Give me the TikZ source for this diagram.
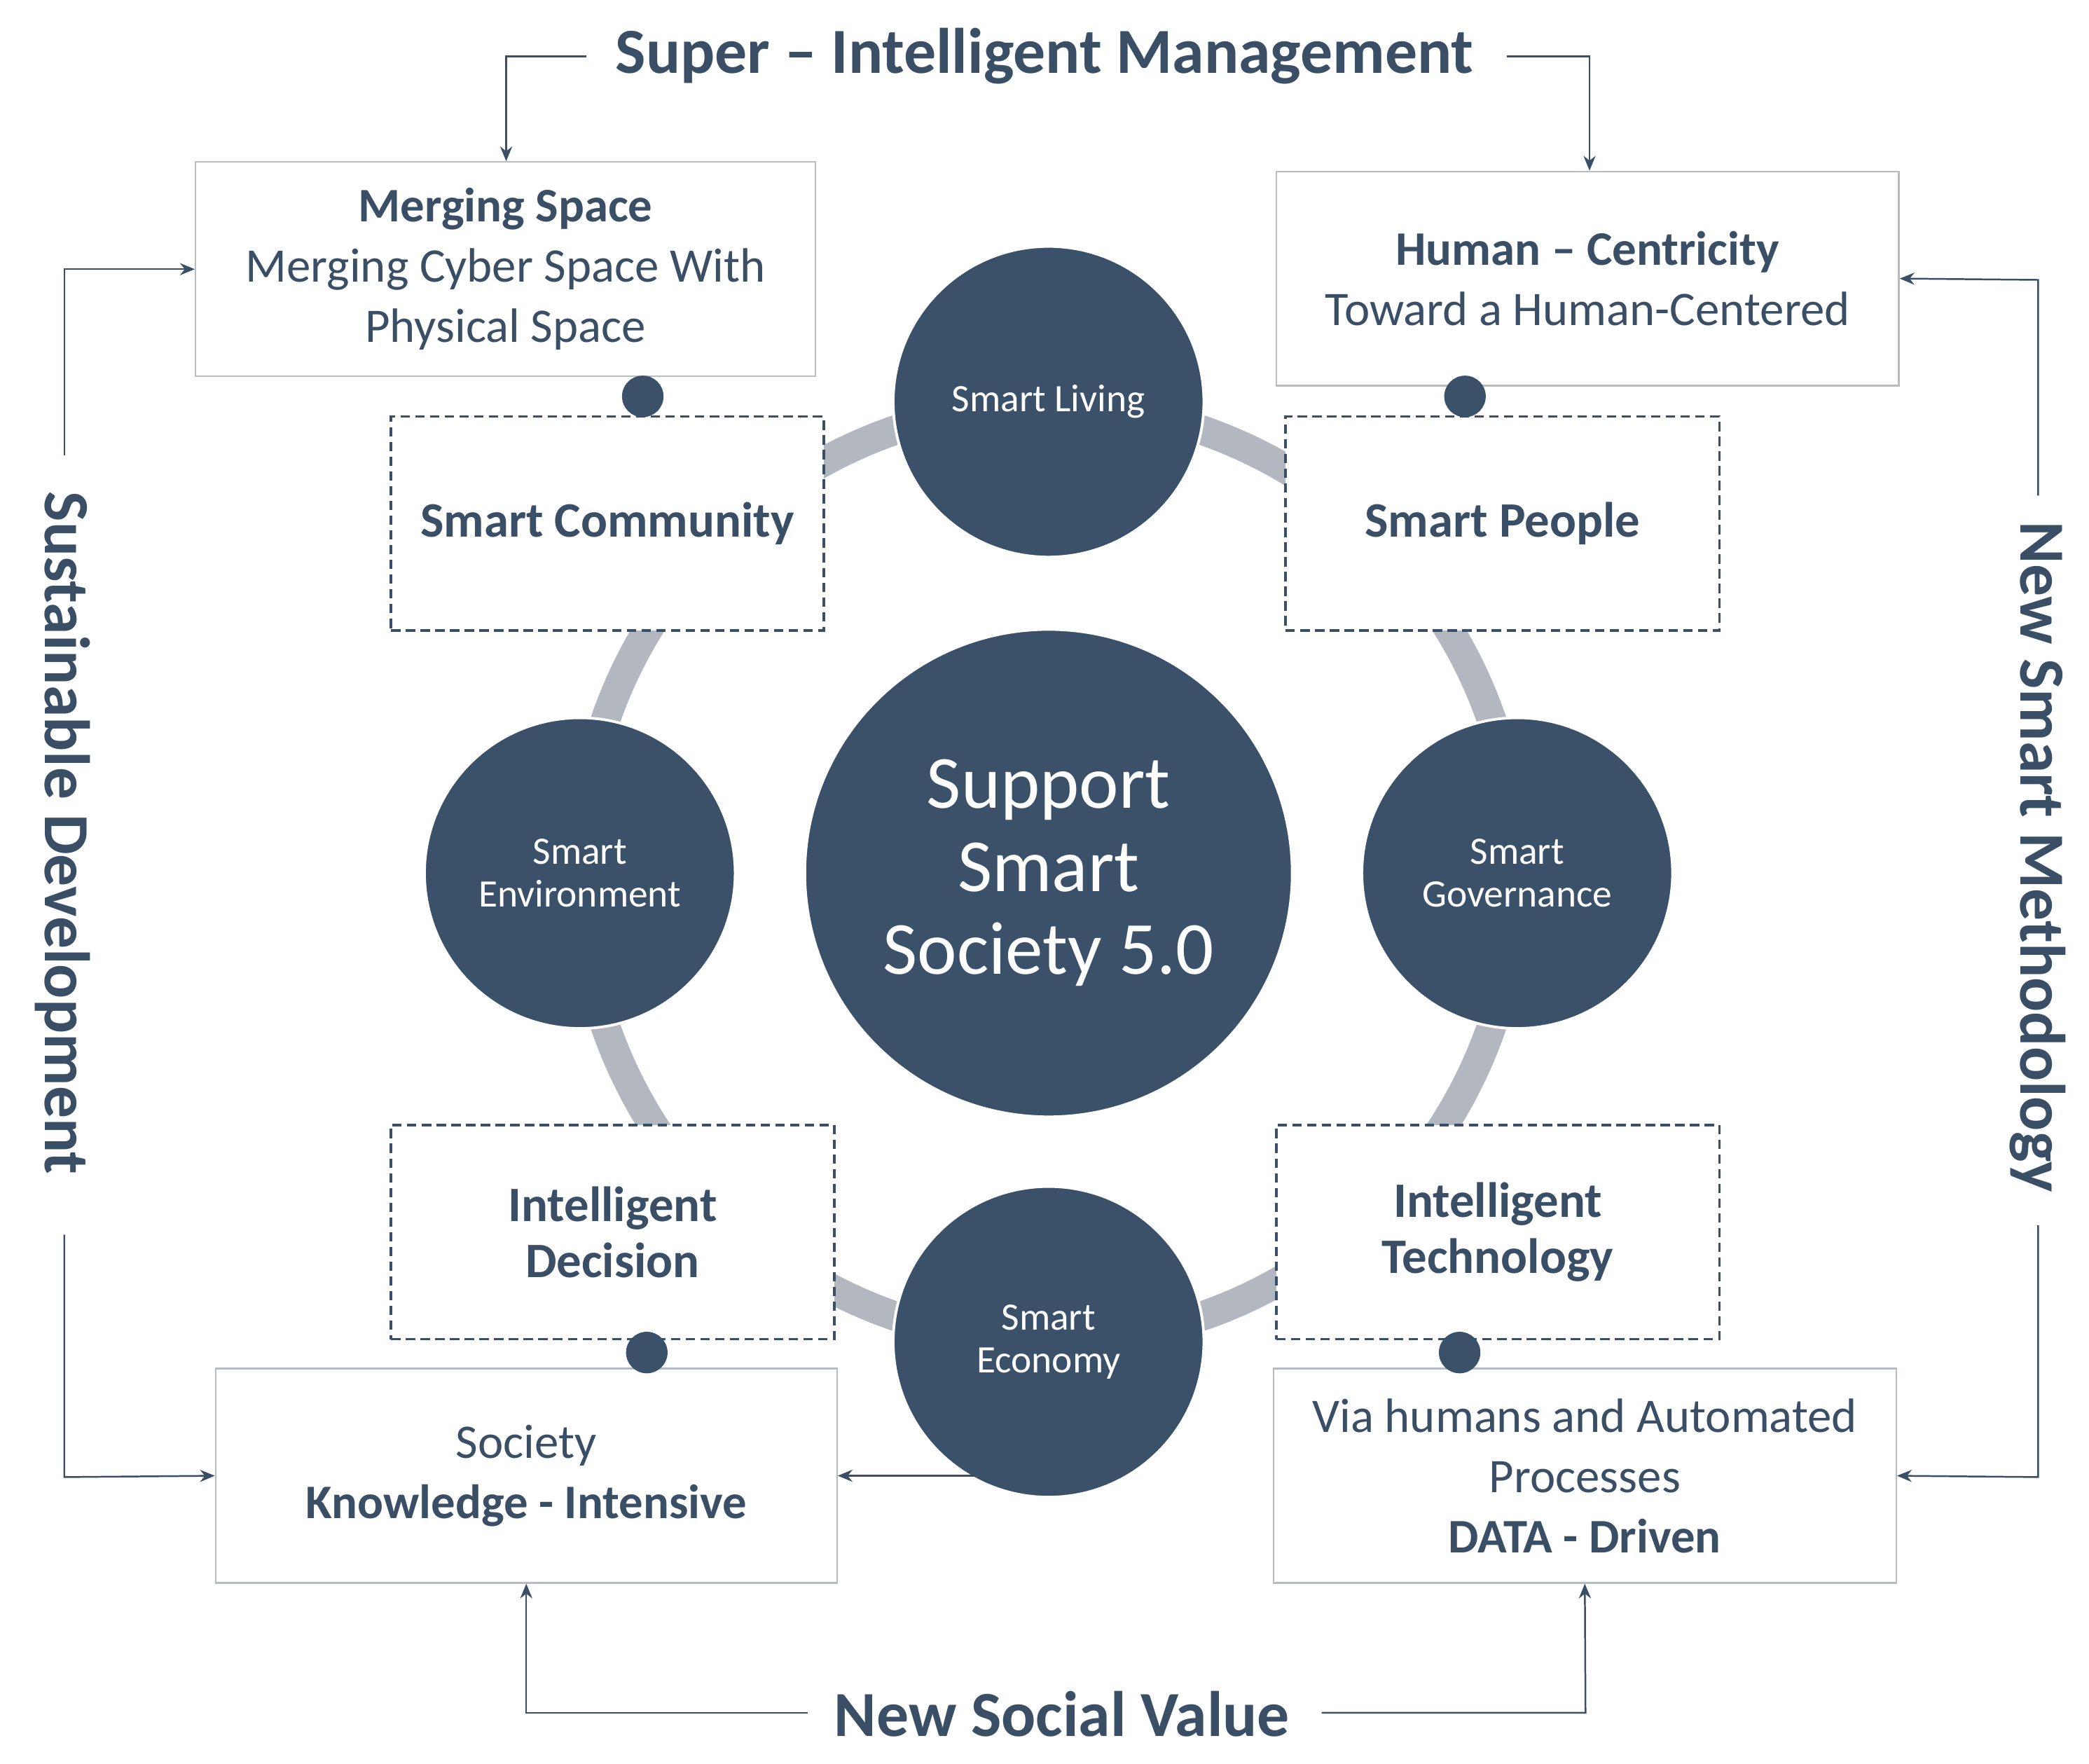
\documentclass[tikz,border=0pt]{standalone}
\usepackage{fontspec}
\setmainfont{Carlito}
\usetikzlibrary{arrows.meta}
\definecolor{navy}{HTML}{3B5169}
\definecolor{ink}{HTML}{3A4F66}
\definecolor{ring}{HTML}{B3B8C0}
\definecolor{frame}{HTML}{B8BCC2}
\tikzset{
 x=1pt,y=-1pt,
 circ/.style={circle,fill=navy,draw=white,line width=2pt,text=white,align=center,inner sep=0pt},
 dbox/.style={draw=ink,dash pattern=on 7pt off 4pt,line width=2pt,fill=white,text=ink,align=center,font=\fontsize{37}{44}\selectfont\bfseries},
 sbox/.style={draw=frame,line width=1.2pt,fill=white,text=ink,align=center,font=\fontsize{36}{45}\selectfont},
 dot/.style={circle,fill=navy,minimum size=31pt,inner sep=0pt},
 arr/.style={draw=ink,line width=1.3pt,-{Stealth[length=11pt,width=9pt]}},
 big/.style={text=ink,font=\fontsize{48}{52}\selectfont\bfseries}
}
\begin{document}
\begin{tikzpicture}
\useasboundingbox (0,0) rectangle (1560,1317);
\fill[white] (0,0) rectangle (1560,1317);
\draw[ring,line width=22pt] (783,652) circle[radius=350];
% boxes
\node[dbox,minimum width=323pt,minimum height=160pt] (sc) at (453.5,391) {Smart Community};
\node[dbox,minimum width=324pt,minimum height=160pt] (sp) at (1122,391) {Smart People};
\node[dbox,minimum width=331pt,minimum height=160pt] (id) at (457.5,920) {Intelligent\\[-2pt]Decision};
\node[dbox,minimum width=331pt,minimum height=160pt] (it) at (1118.5,920) {Intelligent\\[-2pt]Technology};
% circles
\node[circ,minimum size=364pt,font=\fontsize{56}{62}\selectfont] (c) at (783,652) {Support\\Smart\\Society 5.0};
\node[circ,minimum size=232pt,font=\fontsize{29}{32}\selectfont] (sl) at (783,300) {Smart Living};
\node[circ,minimum size=232pt,font=\fontsize{29}{32}\selectfont] (se) at (433,652) {Smart\\Environment};
\node[circ,minimum size=232pt,font=\fontsize{29}{32}\selectfont] (sg) at (1133,652) {Smart\\Governance};
\node[circ,minimum size=232pt,font=\fontsize{29}{32}\selectfont] (ec) at (783,1002) {Smart\\Economy};
% solid boxes
\node[sbox,minimum width=463pt,minimum height=160pt] (ms) at (377.5,201) {\textbf{Merging Space}\\Merging Cyber Space With\\Physical Space};
\node[sbox,minimum width=465pt,minimum height=160pt] (hc) at (1185.5,208) {\textbf{Human – Centricity}\\Toward a Human-Centered};
\node[sbox,minimum width=464pt,minimum height=160pt] (ks) at (393,1102) {Society\\\textbf{Knowledge - Intensive}};
\node[sbox,minimum width=465pt,minimum height=160pt] (dd) at (1183.5,1102) {Via humans and Automated\\Processes\\\textbf{DATA - Driven}};
% dots
\node[dot] (d1) at (480,296) {};
\node[dot] (d2) at (1094,296) {};
\node[dot] (d3) at (483,1010) {};
\node[dot] (d4) at (1090,1010) {};
% labels
\node[big] (top) at (780,42) {Super – Intelligent Management};
\node[big] (bot) at (793,1280) {New Social Value};
\node[big,rotate=-90] (lft) at (47,622) {Sustainable Development};
\node[big,rotate=-90] (rgt) at (1522,640) {New Smart Methodology};
% arrows
\coordinate (a1) at (438,42); \coordinate (a2) at (1125,42);
\coordinate (a3) at (48,340); \coordinate (a4) at (48,922);
\coordinate (a5) at (1522,370); \coordinate (a6) at (1522,915);
\coordinate (a7) at (603,1279); \coordinate (a8) at (987,1279);
\draw[arr] (a1) -- (378,42) -- (ms.north -| 378,0);
\draw[arr] (a2) -- (1187,42) -- (hc.north -| 1187,0);
\draw[arr] (a3) -- (48,201) -- (ms.west);
\draw[arr] (a4) -- (48,1103) -- (ks.west);
\draw[arr] (a5) -- (1522,209) -- (hc.east);
\draw[arr] (a6) -- (1522,1103) -- (dd.east);
\draw[arr] (a7) -- (393,1279) -- (ks.south);
\draw[arr] (a8) -- (1184,1279) -- (dd.south);
\coordinate (ea) at (728,1102);
\draw[arr] (ea) -- (ks.east);
\end{tikzpicture}
\end{document}
